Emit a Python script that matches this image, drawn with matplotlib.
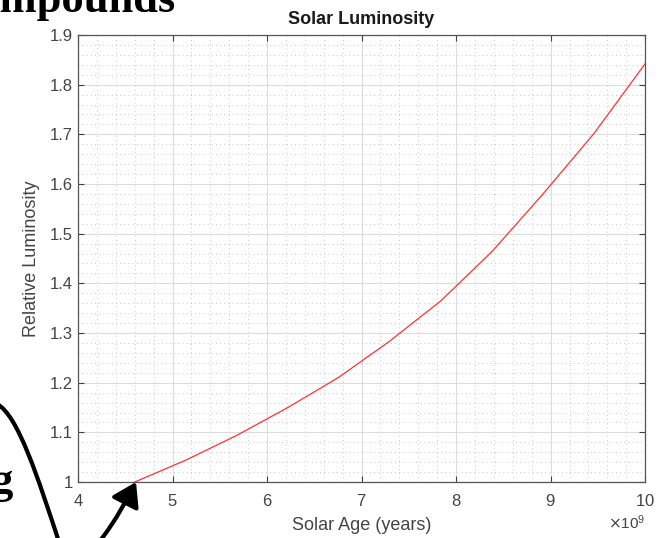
import matplotlib.pyplot as plt
import numpy as np
from matplotlib.path import Path
from matplotlib.patches import FancyArrowPatch
from matplotlib.ticker import MultipleLocator, ScalarFormatter

plt.rcParams['font.family'] = ['Liberation Sans', 'DejaVu Sans']

age = [4.6e9, 5.14e9, 5.68e9, 6.22e9, 6.76e9, 7.30e9, 7.84e9, 8.38e9, 8.92e9, 9.46e9, 10.0e9]
lum = [1.0, 1.044, 1.094, 1.150, 1.211, 1.284, 1.365, 1.464, 1.580, 1.702, 1.842]

fig = plt.figure(figsize=(6.61, 5.38), dpi=100)
ax = fig.add_axes([0.118, 0.104, 0.858, 0.831])

ax.plot(age, lum, color='#ff3030', lw=0.9)
ax.set_xlim(4e9, 10e9)
ax.set_ylim(1.0, 1.9)
ax.xaxis.set_major_locator(MultipleLocator(1e9))
ax.xaxis.set_minor_locator(MultipleLocator(0.2e9))
ax.yaxis.set_major_locator(MultipleLocator(0.1))
ax.yaxis.set_minor_locator(MultipleLocator(0.02))
fmt = ScalarFormatter(useMathText=True)
fmt.set_powerlimits((9, 9))
ax.xaxis.set_major_formatter(fmt)
ax.yaxis.set_major_formatter(plt.FuncFormatter(lambda v, p: '1' if abs(v - 1) < 1e-9 else f'{v:.1f}'))

ax.grid(True, which='major', color='#dcdcdc', lw=0.8)
ax.grid(True, which='minor', color='#b4b4b4', lw=0.6, ls=(0, (1, 4)))
ax.set_axisbelow(True)
ax.tick_params(which='both', direction='in', top=True, right=True, colors='#404040',
               labelsize=12, labelcolor='#444444')
ax.tick_params(which='major', length=4)
ax.tick_params(which='minor', length=0)
ax.tick_params(axis='x', pad=8)
for s in ax.spines.values():
    s.set_color('#555555')
    s.set_linewidth(0.9)
ax.xaxis.get_offset_text().set_color('#444444')
ax.xaxis.get_offset_text().set_fontsize(11)

ax.set_title('Solar Luminosity', fontsize=13, fontweight='bold', color='#1a1a1a', pad=8)
ax.set_xlabel('Solar Age (years)', fontsize=13, color='#444444', labelpad=6)
ax.set_ylabel('Relative Luminosity', fontsize=13, color='#444444', labelpad=7)

# overlay in pixel coordinates for the annotation from the surrounding document
ov = fig.add_axes([0, 0, 1, 1])
ov.set_xlim(0, 661)
ov.set_ylim(538, 0)
ov.axis('off')
ov.patch.set_alpha(0)
ov.text(176, 12, 'Compounds', fontsize=32, fontweight='bold', family='Liberation Serif',
        ha='right', va='baseline')
ov.text(13, 493, 'ing', fontsize=32, fontweight='bold', family='Liberation Serif',
        ha='right', va='baseline')

verts = [(-3, 404), (18, 415), (38, 478), (60, 545),
         (72, 580), (102, 548), (136, 482)]
codes = [Path.MOVETO, Path.CURVE4, Path.CURVE4, Path.CURVE4,
         Path.CURVE4, Path.CURVE4, Path.CURVE4]
arrow = FancyArrowPatch(path=Path(verts, codes), arrowstyle='-|>,head_length=7,head_width=4.5',
                        color='black', lw=3, mutation_scale=2)
ov.add_patch(arrow)

fig.savefig('out.png', dpi=100)
